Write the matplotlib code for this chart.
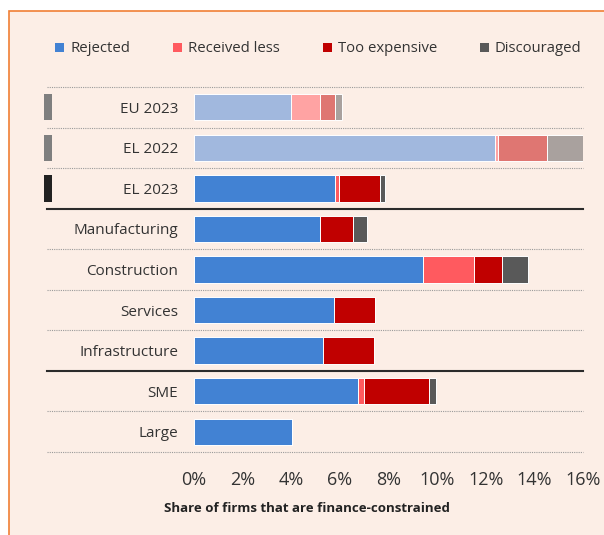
import matplotlib
matplotlib.use("Agg")
import matplotlib.pyplot as plt
from matplotlib.patches import Patch, Rectangle
import matplotlib.transforms as mtransforms
import numpy as np

plt.rcParams['font.family'] = ['Open Sans', 'DejaVu Sans']

categories = ["EU 2023", "EL 2022", "EL 2023", "Manufacturing", "Construction",
              "Services", "Infrastructure", "SME", "Large"]
series_names = ["Rejected", "Received less", "Too expensive", "Discouraged"]
rejected = [4.0, 12.4, 5.8, 5.2, 9.4, 5.75, 5.3, 6.75, 4.05]
received_less = [1.2, 0.1, 0.15, 0.0, 2.1, 0.0, 0.0, 0.25, 0.0]
too_expensive = [0.6, 2.0, 1.7, 1.35, 1.15, 1.7, 2.1, 2.65, 0.0]
discouraged = [0.3, 1.5, 0.2, 0.55, 1.1, 0.0, 0.0, 0.3, 0.0]
x_ticks = [0, 2, 4, 6, 8, 10, 12, 14, 16]
x_label = "Share of firms that are finance-constrained"

# comparison rows (EU 2023, EL 2022) are drawn in faded tones
faded_rows = {0, 1}
colors = ["#4282D3", "#FF5A5F", "#C00000", "#595959"]
faded = ["#A1B8DE", "#FFA3A3", "#DF7672", "#A9A19E"]
marker_colors = {0: "#7F7F7F", 1: "#7F7F7F", 2: "#222222"}
bg = "#FCEEE6"

W, H = 604, 535
fig = plt.figure(figsize=(W / 100, H / 100), dpi=100)
fig.patch.set_facecolor("white")

# framed panel
fig.patches.append(Rectangle((9 / W, -0.02), 1.05, 1 - 11 / H + 0.02,
                             transform=fig.transFigure, facecolor=bg,
                             edgecolor="#F07F35", linewidth=1.2, zorder=-1))

left, right = 194 / W, 583 / W
top, bottom = 1 - 87 / H, 1 - 452 / H
ax = fig.add_axes([left, bottom, right - left, top - bottom])
ax.set_facecolor("none")

y = np.arange(len(categories))
series = [rejected, received_less, too_expensive, discouraged]
bar_h = 0.65
cum = np.zeros(len(categories))
for s_idx, vals in enumerate(series):
    vals = np.array(vals, dtype=float)
    cols = [faded[s_idx] if i in faded_rows else colors[s_idx] for i in range(len(categories))]
    ax.barh(y, vals, left=cum, height=bar_h, color=cols, edgecolor="white",
            linewidth=0.7, zorder=3)
    cum += vals

ax.set_xlim(0, 16)
ax.set_ylim(len(categories) - 0.5, -0.5)
ax.set_yticks(y)
ax.set_yticklabels(categories, fontsize=11, color="#333333")
ax.set_xticks(x_ticks)
ax.set_xticklabels([f"{t}%" for t in x_ticks], fontsize=13, color="#333333")
ax.tick_params(axis="both", length=0)
ax.tick_params(axis="y", pad=11.5)
ax.tick_params(axis="x", pad=14)
for sp in ax.spines.values():
    sp.set_visible(False)

trans = mtransforms.blended_transform_factory(ax.transAxes, ax.transData)
line_x0 = (47 - 194) / (583 - 194)
solid_after = {2, 6}
for b in range(len(categories) + 1):
    yb = b - 0.5
    if (b - 1) in solid_after:
        ax.plot([line_x0, 1], [yb, yb], transform=trans, color="#2B2B2B",
                linewidth=1.5, clip_on=False, zorder=4)
    else:
        ax.plot([line_x0, 1], [yb, yb], transform=trans, color="#9A9A9A",
                linewidth=0.8, linestyle=(0, (1, 1)), clip_on=False, zorder=2)

# group markers at the left edge
mx0 = (44 - 194) / (583 - 194)
mw = 8 / (583 - 194)
for i, c in marker_colors.items():
    ax.add_patch(Rectangle((mx0, i - bar_h / 2), mw, bar_h, transform=trans,
                           facecolor=c, edgecolor="none", clip_on=False))

handles = [Patch(facecolor=c, edgecolor="none") for c in colors]
fig.legend(handles, series_names, loc="center left", bbox_to_anchor=(42 / W, 1 - 49 / H),
           ncol=4, frameon=False, fontsize=10.7, handlelength=0.6, handleheight=0.6,
           handletextpad=0.4, columnspacing=2.9, labelcolor="#333333")

fig.text(307 / W, 1 - 509 / H, x_label, ha="center", va="center", fontsize=9.5,
         fontweight="bold", color="#222222")

fig.savefig("out.png", dpi=100)
